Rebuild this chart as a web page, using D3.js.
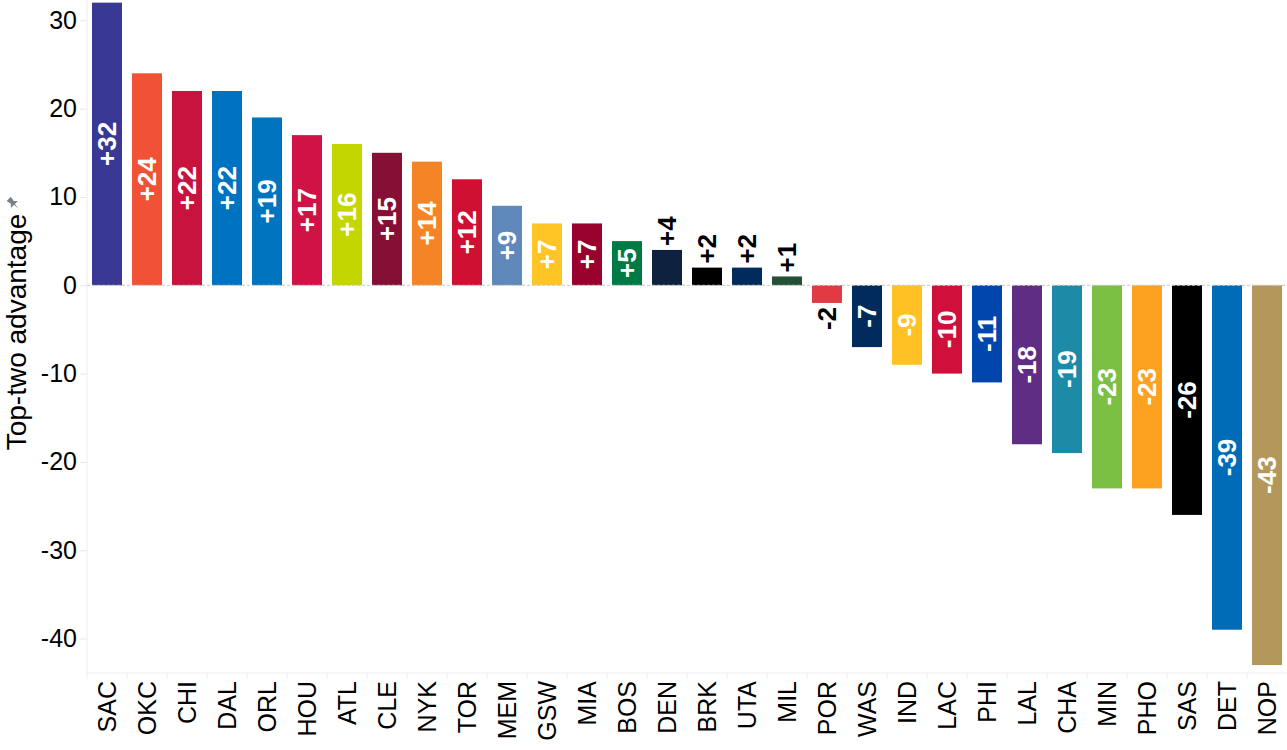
<!DOCTYPE html>
<html>
<head>
<meta charset="utf-8">
<script src="https://cdn.jsdelivr.net/npm/d3@7"></script>
<style>
  body { margin: 0; background: #fff; }
  text { font-family: Arial, "Liberation Sans", sans-serif; }
</style>
</head>
<body>
<script>
var teams = ['SAC','OKC','CHI','DAL','ORL','HOU','ATL','CLE','NYK','TOR','MEM','GSW','MIA','BOS','DEN',
             'BRK','UTA','MIL','POR','WAS','IND','LAC','PHI','LAL','CHA','MIN','PHO','SAS','DET','NOP'];
var advantage = [32, 24, 22, 22, 19, 17, 16, 15, 14, 12, 9, 7, 7, 5, 4,
                 2, 2, 1, -2, -7, -9, -10, -11, -18, -19, -23, -23, -26, -39, -43];
var teamColors = ['#393995','#f15236','#c8133f','#0072c2','#0074bf','#d11246','#c4d600','#860f36','#f58426','#cf1032',
                  '#5f88bb','#fec524','#98002e','#007a45','#0e2240','#000000','#002b5c','#255036','#e23a42','#002b5c',
                  '#ffc124','#d0103a','#0046ad','#5f2d84','#1d8aa8','#7bc043','#fca120','#000000','#006bb6','#b4975a'];
var yTicks = [-40, -30, -20, -10, 0, 10, 20, 30];

var W = 1287, H = 750;
var pLeft = 87, pRight = 1287, pTop = 0, pBottom = 673;

var svg = d3.select('body').append('svg')
   .attr('width', W)
   .attr('height', H);

var x = d3.scaleBand()
   .domain(teams)
   .range([pLeft, pRight])
   .paddingInner(0.25)
   .paddingOuter(0.125);

var y = d3.scaleLinear()
   .domain([-43.9, 32.3])
   .range([pBottom, pTop]);

// y axis
var yAxis = svg.append('g')
   .attr('transform', 'translate(' + pLeft + ',0)')
   .call(d3.axisLeft(y).tickValues(yTicks).tickSize(7).tickPadding(3)
         .tickFormat(function(d) { return String(d); }));
yAxis.select('.domain').remove();
yAxis.selectAll('line').attr('stroke', '#e8e8e8');
yAxis.selectAll('text')
   .attr('font-size', 25)
   .attr('fill', '#000')
   .style('font-family', 'Arial, "Liberation Sans", sans-serif');

svg.append('line')
   .attr('x1', pLeft).attr('x2', pLeft)
   .attr('y1', pTop).attr('y2', pBottom)
   .attr('stroke', '#eeeeee');

// x axis
var xAxis = svg.append('g')
   .attr('transform', 'translate(0,' + pBottom + ')');
xAxis.append('line')
   .attr('x1', pLeft).attr('x2', pRight)
   .attr('stroke', '#eeeeee');
xAxis.selectAll('line.sep')
   .data(teams)
   .enter().append('line')
   .attr('class', 'sep')
   .attr('x1', function(d) { return x(d) - x.step() * x.paddingInner() / 2; })
   .attr('x2', function(d) { return x(d) - x.step() * x.paddingInner() / 2; })
   .attr('y1', 0).attr('y2', 6)
   .attr('stroke', '#eeeeee');
xAxis.selectAll('text')
   .data(teams)
   .enter().append('text')
   .attr('transform', function(d) {
      return 'translate(' + (x(d) + x.bandwidth() / 2) + ',8) rotate(-90)';
   })
   .attr('dy', '0.35em')
   .attr('text-anchor', 'end')
   .attr('font-size', 25)
   .attr('fill', '#000')
   .text(function(d) { return d; });

// y title
var title = svg.append('g')
   .attr('transform', 'translate(26,332) rotate(-90)');
title.append('text')
   .attr('text-anchor', 'middle')
   .attr('font-size', 28)
   .attr('fill', '#000')
   .text('Top-two advantage');
// pin icon
title.append('path')
   .attr('transform', 'translate(129,-13) rotate(45)')
   .attr('d', 'M-3,-6 L3,-6 L2,-1 L5,2 L-5,2 L-2,-1 Z M-0.6,2 L0.6,2 L0,8 Z')
   .attr('fill', '#7b8088');

var data = teams.map(function(t, i) {
   return {team: t, value: advantage[i], color: teamColors[i]};
});

// bars
svg.selectAll('rect.bar')
   .data(data)
   .enter().append('rect')
   .attr('class', 'bar')
   .attr('x', function(d) { return x(d.team); })
   .attr('width', x.bandwidth())
   .attr('y', function(d) { return y(Math.max(0, d.value)); })
   .attr('height', function(d) { return Math.abs(y(d.value) - y(0)); })
   .attr('fill', function(d) { return d.color; });

// zero line
svg.append('line')
   .attr('x1', pLeft).attr('x2', pRight)
   .attr('y1', y(0)).attr('y2', y(0))
   .attr('stroke', '#c8c8c8')
   .attr('stroke-dasharray', '3,2');

// labels
function labelText(d) { return (d.value > 0 ? '+' : '') + d.value; }
var labels = svg.selectAll('text.lbl')
   .data(data)
   .enter().append('text')
   .attr('class', 'lbl')
   .attr('font-size', 26)
   .attr('font-weight', 'bold')
   .attr('dy', '0.35em')
   .text(labelText);

labels.each(function(d) {
   var len = this.getComputedTextLength();
   var h = Math.abs(y(d.value) - y(0));
   var cx = x(d.team) + x.bandwidth() / 2;
   var sel = d3.select(this);
   if (len + 8 <= h) {
      var cy = (y(d.value) + y(0)) / 2;
      sel.attr('text-anchor', 'middle')
         .attr('fill', '#fff')
         .attr('transform', 'translate(' + cx + ',' + cy + ') rotate(-90)');
   } else if (d.value > 0) {
      sel.attr('text-anchor', 'start')
         .attr('fill', '#000')
         .attr('transform', 'translate(' + cx + ',' + (y(d.value) - 4) + ') rotate(-90)');
   } else {
      sel.attr('text-anchor', 'end')
         .attr('fill', '#000')
         .attr('transform', 'translate(' + cx + ',' + (y(d.value) + 4) + ') rotate(-90)');
   }
});
</script>
</body>
</html>
